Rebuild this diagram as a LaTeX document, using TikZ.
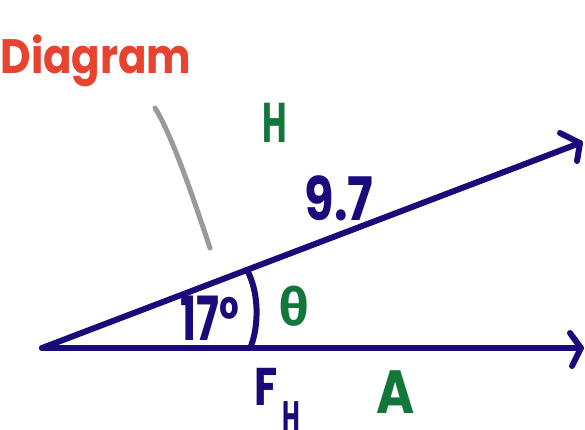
\documentclass[tikz,border=0pt]{standalone}
\usepackage{fontspec}
\setmainfont{Poppins}
\newfontfamily\greekfont{Fira Sans}
\definecolor{navy}{HTML}{1A0B7A}
\definecolor{hgreen}{HTML}{13773C}
\definecolor{hred}{HTML}{E8432E}
\definecolor{hgray}{HTML}{9A9A9A}
\begin{document}
\begin{tikzpicture}[x=1pt,y=-1pt,
  vec/.style={draw=navy,line width=6pt,line cap=round,line join=round},
  pointer/.style={draw=hgray,line width=5pt,line cap=round},
  lbl/.style={inner sep=0pt,anchor=base,font=\bfseries}]
\useasboundingbox (0,0) rectangle (585,429);
% points
\coordinate (O) at (42,348);
\coordinate (tipA) at (581,348);
\coordinate (tipH) at (580,143);
\coordinate (arcS) at (247,270);
\coordinate (arcE) at (251,346);
\coordinate (pS) at (155,108);
\coordinate (pE) at (210,248);
% vectors
\draw[vec] (O) -- (tipA);
\draw[vec] (570,333) -- (tipA) -- (572,366);
\draw[vec] (O) -- (tipH);
\draw[vec] (560,133) -- (tipH) -- (577,161);
% angle arc
\draw[vec] (arcS) .. controls (259,292) and (259,325) .. (arcE);
% pointer
\draw[pointer] (pS) .. controls (172,135) and (194,200) .. (pE);
% labels
\node[lbl,text=hred] (title) at (96,73) {\fontsize{42}{42}\selectfont\scalebox{1}[1.15]{Diagram}};
\node[lbl,text=hgreen] (Hl) at (275,142) {\fontsize{56}{56}\selectfont\scalebox{0.6}[1]{H}};
\node[lbl,text=navy] (len) at (339,220) {\fontsize{60}{60}\selectfont\scalebox{0.8}[1]{9.7}};
\node[lbl,text=navy] (ang) at (210,340) {\fontsize{61}{61}\selectfont\scalebox{0.7}[1]{17°}};
\node[lbl,text=hgreen] (th) at (294,325) {\greekfont\bfseries\fontsize{52}{52}\selectfont θ};
\node[lbl,text=navy] (F) at (266,405) {\fontsize{53}{53}\selectfont\scalebox{0.8}[1]{F}};
\node[lbl,text=navy] (Fs) at (291,432) {\fontsize{44}{44}\selectfont\scalebox{0.55}[1]{H}};
\node[lbl,text=hgreen] (Al) at (396,413) {\fontsize{61}{61}\selectfont\scalebox{0.85}[1]{A}};
\end{tikzpicture}
\end{document}
